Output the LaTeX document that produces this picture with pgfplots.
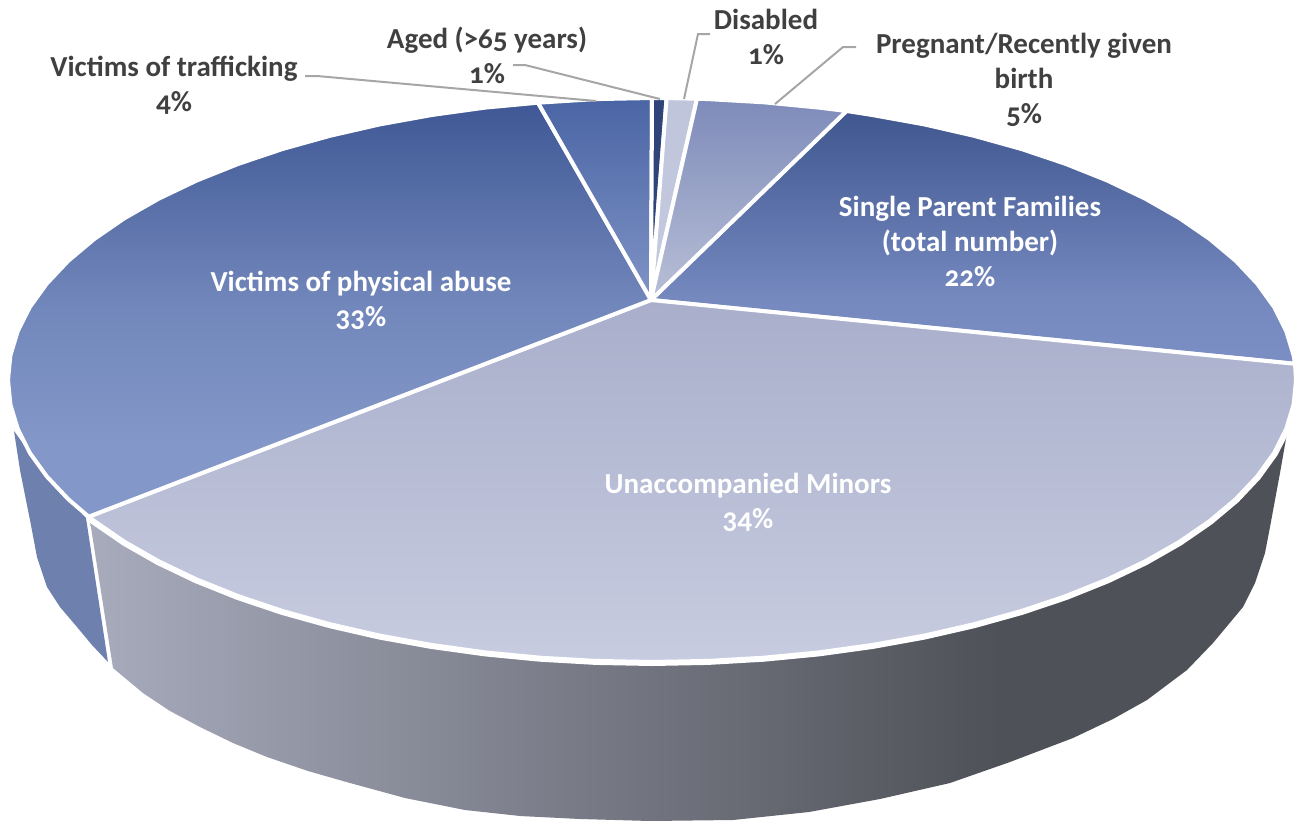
\documentclass[border=0pt]{standalone}
\usepackage{pgfplots}
\pgfplotsset{compat=1.18}
\usepackage{fontspec}
\setmainfont{Carlito}[Numbers=OldStyle]

\definecolor{txt}{HTML}{404040}
\definecolor{leader}{HTML}{A6A6A6}
\definecolor{sideL}{HTML}{A8ABBC}
\definecolor{sideR}{HTML}{4F5158}
\definecolor{sideB}{HTML}{6E80AE}
\definecolor{wedgeA}{HTML}{3F568F}
\definecolor{wedgeAm}{HTML}{7589BF}
\definecolor{wedgeB}{HTML}{7B8FC4}
\definecolor{wedgeC}{HTML}{A9AFCB}
\definecolor{wedgeD}{HTML}{C7CCE0}
\definecolor{wedgeE}{HTML}{3F5895}
\definecolor{wedgeEm}{HTML}{7186BA}
\definecolor{wedgeF}{HTML}{8397C8}
\definecolor{wedgeG}{HTML}{4A65A5}
\definecolor{wedgeH}{HTML}{7F93C5}
\definecolor{wedgeI}{HTML}{2F4478}
\definecolor{wedgeJ}{HTML}{BFC5DB}
\definecolor{wedgeK}{HTML}{C5CADF}
\definecolor{wedgeL}{HTML}{7E8BBA}
\definecolor{wedgeM}{HTML}{B8BFD6}
\pgfdeclarehorizontalshading{sideshade}{100bp}{
  color(0bp)=(sideL); color(25bp)=(sideL); color(63bp)=(sideR); color(100bp)=(sideR)}
\pgfdeclareverticalshading{abuseshade}{100bp}{
  color(0bp)=(wedgeF); color(34bp)=(wedgeF); color(51bp)=(wedgeEm); color(75bp)=(wedgeE); color(100bp)=(wedgeE)}
\pgfdeclareverticalshading{singleshade}{100bp}{
  color(0bp)=(wedgeB); color(25bp)=(wedgeB); color(38bp)=(wedgeAm); color(75bp)=(wedgeA); color(100bp)=(wedgeA)}
\tikzset{
  wedge/.style={draw=white, line width=4pt, line join=round},
  lab/.style={font=\fontsize{29}{35}\selectfont\bfseries, align=center, text=txt},
  inlab/.style={lab, text=white},
  lead/.style={draw=leader, line width=2pt}
}

\begin{document}
\begin{tikzpicture}
\begin{axis}[
  axis lines=none, scale only axis, width=1296pt, height=820pt,
  xmin=0, xmax=1296, ymin=0, ymax=820, y dir=reverse, clip=false
]
% sides
\addplot[fill=sideB, draw=none] coordinates {
  (14,431) (20,470) (30,520) (37,557) (47,587) (60,607) (77,627) (92,645) (108,662) (86,518) (46.8,476.4)
} -- cycle;
\addplot[shade, shading=sideshade, draw=none] coordinates {
  (90,521) (113,668) (143,693) (170,711) (200,727) (233,743) (267,757) (308,771) (350,783) (405,798) (465,810)
  (520,816) (580,819) (650,821) (733,820) (809,812) (880,799) (950,783) (1010,762) (1073,738) (1113,719)
  (1147,700) (1187,670) (1213,643) (1243,607) (1255,583) (1265,553) (1270,527) (1280,473) (1287,433) (1240,400)
} -- cycle;
% thicker white rim along the front
\addplot[draw=white, line width=8pt] coordinates {
  (88.7,516.7) (94.3,521) (124.5,541.8) (158.7,561.3) (196.6,579.4) (238,596) (282.6,611) (330,624.2)
  (379.8,635.6) (431.8,645) (485.3,652.4) (540.2,657.7) (595.8,660.9) (652,662) (708.2,660.9) (763.8,657.7)
  (818.7,652.4) (872.2,645) (924.2,635.6) (974,624.2) (1021.4,611) (1066,596) (1107.4,579.4) (1145.3,561.3)
  (1179.5,541.8) (1209.7,521) (1235.7,499.2) (1257.2,476.4) (1274.1,453) (1286.2,429) (1293.6,404.6)
};
% top face, one wedge per slice
\addplot[wedge, shade, shading=singleshade] coordinates { % Single parent 22
  (651,300) (1295,363.8) (1293.6,355.4) (1286.2,331) (1274.1,307) (1257.2,283.6) (1235.7,260.8) (1209.7,239)
  (1179.5,218.2) (1145.3,198.7) (1107.4,180.6) (1066,164) (1021.4,149) (974,135.8) (924.2,124.4) (872.2,115) (846.5,111)
} -- cycle;
\addplot[wedge, top color=wedgeC, bottom color=wedgeD] coordinates { % Unaccompanied 34
  (651,300) (88.7,516.7) (94.3,521) (124.5,541.8) (158.7,561.3) (196.6,579.4) (238,596) (282.6,611) (330,624.2)
  (379.8,635.6) (431.8,645) (485.3,652.4) (540.2,657.7) (595.8,660.9) (652,662) (708.2,660.9) (763.8,657.7)
  (818.7,652.4) (872.2,645) (924.2,635.6) (974,624.2) (1021.4,611) (1066,596) (1107.4,579.4) (1145.3,561.3)
  (1179.5,541.8) (1209.7,521) (1235.7,499.2) (1257.2,476.4) (1274.1,453) (1286.2,429) (1293.6,404.6) (1296,380) (1295,363.8)
} -- cycle;
\addplot[wedge, shade, shading=abuseshade] coordinates { % Physical abuse 33
  (651,300) (538,102.7) (485.3,107.6) (431.8,115) (379.8,124.4) (330,135.8) (282.6,149) (238,164) (196.6,180.6)
  (158.7,198.7) (124.5,218.2) (94.3,239) (68.3,260.8) (46.8,283.6) (29.9,307) (17.8,331) (10.4,355.4) (8,380)
  (10.4,404.6) (17.8,429) (29.9,453) (46.8,476.4) (68.3,499.2) (88.7,516.7)
} -- cycle;
\addplot[wedge, top color=wedgeG, bottom color=wedgeH] coordinates { % Trafficking 4
  (651,300) (652,98) (595.8,99.1) (538,102.7)
} -- cycle;
\addplot[wedge, fill=wedgeI] coordinates { % Aged 1
  (651,300) (666.6,98.1) (652,98)
} -- cycle;
\addplot[wedge, top color=wedgeJ, bottom color=wedgeK] coordinates { % Disabled 1
  (651,300) (697,98.7) (666.6,98.1)
} -- cycle;
\addplot[wedge, top color=wedgeL, bottom color=wedgeM] coordinates { % Pregnant 5
  (651,300) (846.5,111) (818.7,107.6) (763.8,102.3) (708.2,99.1) (697,98.7)
} -- cycle;
% leader lines
\addplot[lead] coordinates {(305,76) (317,76) (596,101)};
\addplot[lead] coordinates {(513,65) (525,65) (660,99)};
\addplot[lead] coordinates {(710,34) (698,34) (684,99)};
\addplot[lead] coordinates {(856,47) (843,47) (775,104)};
% labels
\node[lab] at (axis cs:174,85) {Victims of trafficking\\4\%};
\node[lab] at (axis cs:487,55) {Aged (>65 years)\\1\%};
\node[lab] at (axis cs:766,37) {Disabled\\1\%};
\node[lab] at (axis cs:1024,80) {Pregnant/Recently given\\birth\\5\%};
\node[inlab] at (axis cs:970,241) {Single Parent Families\\(total number)\\22\%};
\node[inlab] at (axis cs:361,300) {Victims of physical abuse\\33\%};
\node[inlab] at (axis cs:748,502) {Unaccompanied Minors\\34\%};
\end{axis}
\pgfresetboundingbox
\path[use as bounding box] (current axis.south west) rectangle (current axis.north east);
\end{tikzpicture}
\end{document}
